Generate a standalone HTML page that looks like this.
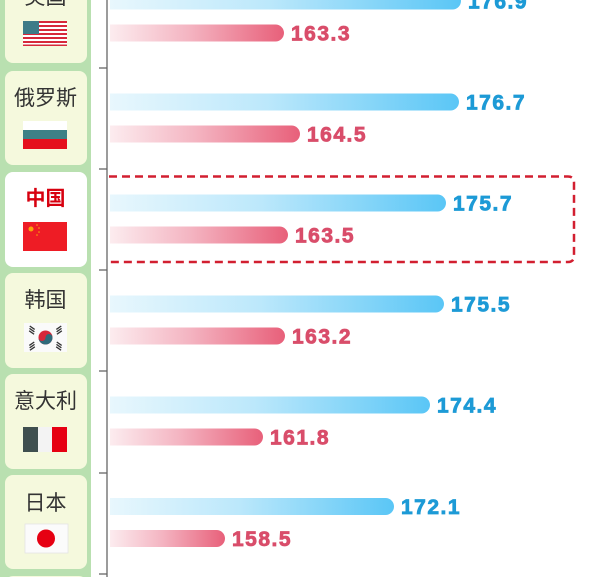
<!DOCTYPE html>
<html>
<head>
<meta charset="utf-8">
<style>
html,body{margin:0;padding:0;background:#fff;}
body{width:600px;height:577px;overflow:hidden;position:relative;}
svg{display:block;}
.cn{font-family:"Liberation Sans","Noto Sans CJK SC",sans-serif;}
.num{font-family:"Liberation Sans",sans-serif;font-weight:bold;font-size:21px;letter-spacing:1.5px;stroke-width:0.8px;}
</style>
</head>
<body>
<svg width="600" height="577" viewBox="0 0 600 577" xmlns="http://www.w3.org/2000/svg">
<defs>
<linearGradient id="gb" x1="0" y1="0" x2="1" y2="0">
<stop offset="0" stop-color="#e8f7fd"/>
<stop offset="0.45" stop-color="#bce8fb"/>
<stop offset="1" stop-color="#5ac6f6"/>
</linearGradient>
<linearGradient id="gp" x1="0" y1="0" x2="1" y2="0">
<stop offset="0" stop-color="#fcecef"/>
<stop offset="0.45" stop-color="#f4b5c2"/>
<stop offset="1" stop-color="#e8607a"/>
</linearGradient>
</defs>

<!-- green strip -->
<rect x="0" y="0" width="91" height="577" fill="#b9e0b0"/>

<!-- cards -->
<rect x="5" y="-30" width="82" height="93" rx="8" fill="#f5f9dd"/>
<rect x="5" y="71" width="82" height="94" rx="8" fill="#f5f9dd"/>
<rect x="5" y="172" width="82" height="95" rx="8" fill="#ffffff"/>
<rect x="5" y="273" width="82" height="95" rx="8" fill="#f5f9dd"/>
<rect x="5" y="374" width="82" height="95" rx="8" fill="#f5f9dd"/>
<rect x="5" y="475" width="82" height="94" rx="8" fill="#f5f9dd"/>
<rect x="5" y="576" width="82" height="20" rx="8" fill="#f5f9dd"/>

<!-- card texts -->
<g class="cn" font-size="21" fill="#333" text-anchor="middle">
<text x="45.5" y="4">美国</text>
<text x="45.5" y="105">俄罗斯</text>
<text x="45.5" y="307">韩国</text>
<text x="45.5" y="408">意大利</text>
<text x="45.5" y="510">日本</text>
</g>
<text class="cn" x="45.5" y="205" font-size="20" font-weight="bold" fill="#d7000f" text-anchor="middle">中国</text>

<!-- US flag -->
<g>
<rect x="23" y="21" width="44" height="25" fill="#fff"/>
<g fill="#d7283a">
<rect x="23" y="21" width="44" height="2"/>
<rect x="23" y="25" width="44" height="2"/>
<rect x="23" y="29" width="44" height="2"/>
<rect x="23" y="33" width="44" height="2"/>
<rect x="23" y="37" width="44" height="2"/>
<rect x="23" y="41" width="44" height="2"/>
<rect x="23" y="44.5" width="44" height="1.5"/>
</g>
<rect x="23" y="21" width="16" height="13" fill="#3d7b88"/>
</g>

<!-- Russia flag -->
<rect x="23" y="121" width="44" height="9" fill="#ffffff"/>
<rect x="23" y="130" width="44" height="9" fill="#3e8186"/>
<rect x="23" y="139" width="44" height="10" fill="#e5101c"/>

<!-- China flag -->
<rect x="23" y="222" width="44" height="29" fill="#ee1c25"/>
<g fill="#ffde00" opacity="0.7">
<circle cx="31" cy="229" r="2.5"/>
<circle cx="37" cy="225" r="0.8"/>
<circle cx="39" cy="228" r="0.8"/>
<circle cx="39" cy="232" r="0.8"/>
<circle cx="37" cy="235" r="0.8"/>
</g>

<!-- Korea flag -->
<rect x="24" y="323" width="43" height="29" fill="#fafafa"/>
<circle cx="45.5" cy="337.5" r="7" fill="#d7283a"/>
<path d="M38.5,337.5 A3.5,3.5 0 0 0 45.5,337.5 A3.5,3.5 0 0 1 52.5,337.5 A7,7 0 0 1 38.5,337.5 Z" fill="#2f6a7a"/>
<g fill="#333">
<rect x="29" y="327" width="6" height="1.3" transform="rotate(35 32 328)"/>
<rect x="29" y="329.5" width="6" height="1.3" transform="rotate(35 32 330)"/>
<rect x="29" y="332" width="6" height="1.3" transform="rotate(35 32 332)"/>
<rect x="56" y="327" width="6" height="1.3" transform="rotate(-35 59 328)"/>
<rect x="56" y="329.5" width="6" height="1.3" transform="rotate(-35 59 330)"/>
<rect x="56" y="332" width="6" height="1.3" transform="rotate(-35 59 332)"/>
<rect x="29" y="343" width="6" height="1.3" transform="rotate(-35 32 344)"/>
<rect x="29" y="345.5" width="6" height="1.3" transform="rotate(-35 32 346)"/>
<rect x="29" y="348" width="6" height="1.3" transform="rotate(-35 32 348)"/>
<rect x="56" y="343" width="6" height="1.3" transform="rotate(35 59 344)"/>
<rect x="56" y="345.5" width="6" height="1.3" transform="rotate(35 59 346)"/>
<rect x="56" y="348" width="6" height="1.3" transform="rotate(35 59 348)"/>
</g>

<!-- Italy flag -->
<rect x="23" y="427" width="15" height="25" fill="#3f4f4f"/>
<rect x="38" y="427" width="14" height="25" fill="#f3f3f3"/>
<rect x="52" y="427" width="15" height="25" fill="#e60012"/>

<!-- Japan flag -->
<rect x="25" y="524" width="43" height="29" fill="#fbfbfb" stroke="#e4e4e4" stroke-width="0.8"/>
<circle cx="46" cy="538.5" r="9" fill="#e60012"/>

<!-- axis -->
<line x1="107" y1="0" x2="107" y2="577" stroke="#666" stroke-width="1.3"/>
<g stroke="#666" stroke-width="1.3">
<line x1="99" y1="68" x2="107" y2="68"/>
<line x1="99" y1="169" x2="107" y2="169"/>
<line x1="99" y1="270" x2="107" y2="270"/>
<line x1="99" y1="371" x2="107" y2="371"/>
<line x1="99" y1="473" x2="107" y2="473"/>
<line x1="99" y1="574" x2="107" y2="574"/>
</g>

<!-- dashed highlight box -->
<path d="M109,176.5 H568 Q574,176.5 574,182.5 V256 Q574,262 568,262 H109" fill="none" stroke="#d21f30" stroke-width="2.5" stroke-dasharray="8 5"/>

<!-- bars -->
<g>
<path d="M110,-7.5 H452.5 A8.5,8.5 0 0 1 452.5,9.5 H110 Z" fill="url(#gb)"/>
<path d="M110,24.5 H275.5 A8.5,8.5 0 0 1 275.5,41.5 H110 Z" fill="url(#gp)"/>

<path d="M110,93.5 H450.5 A8.5,8.5 0 0 1 450.5,110.5 H110 Z" fill="url(#gb)"/>
<path d="M110,125.5 H291.5 A8.5,8.5 0 0 1 291.5,142.5 H110 Z" fill="url(#gp)"/>

<path d="M110,194.5 H437.5 A8.5,8.5 0 0 1 437.5,211.5 H110 Z" fill="url(#gb)"/>
<path d="M110,226.5 H279.5 A8.5,8.5 0 0 1 279.5,243.5 H110 Z" fill="url(#gp)"/>

<path d="M110,295.5 H435.5 A8.5,8.5 0 0 1 435.5,312.5 H110 Z" fill="url(#gb)"/>
<path d="M110,327.5 H276.5 A8.5,8.5 0 0 1 276.5,344.5 H110 Z" fill="url(#gp)"/>

<path d="M110,396.5 H421.5 A8.5,8.5 0 0 1 421.5,413.5 H110 Z" fill="url(#gb)"/>
<path d="M110,428.5 H254.5 A8.5,8.5 0 0 1 254.5,445.5 H110 Z" fill="url(#gp)"/>

<path d="M110,498 H385.5 A8.5,8.5 0 0 1 385.5,515 H110 Z" fill="url(#gb)"/>
<path d="M110,530 H216.5 A8.5,8.5 0 0 1 216.5,547 H110 Z" fill="url(#gp)"/>
</g>

<!-- value labels -->
<g class="num" fill="#1d9ad6" stroke="#1d9ad6">
<text x="468" y="8.5">176.9</text>
<text x="466" y="109.5">176.7</text>
<text x="453" y="210.5">175.7</text>
<text x="451" y="311.5">175.5</text>
<text x="437" y="412.5">174.4</text>
<text x="401" y="514">172.1</text>
</g>
<g class="num" fill="#d94d6a" stroke="#d94d6a">
<text x="291" y="40.5">163.3</text>
<text x="307" y="141.5">164.5</text>
<text x="295" y="242.5">163.5</text>
<text x="292" y="343.5">163.2</text>
<text x="270" y="444.5">161.8</text>
<text x="232" y="546">158.5</text>
</g>
</svg>
</body>
</html>
